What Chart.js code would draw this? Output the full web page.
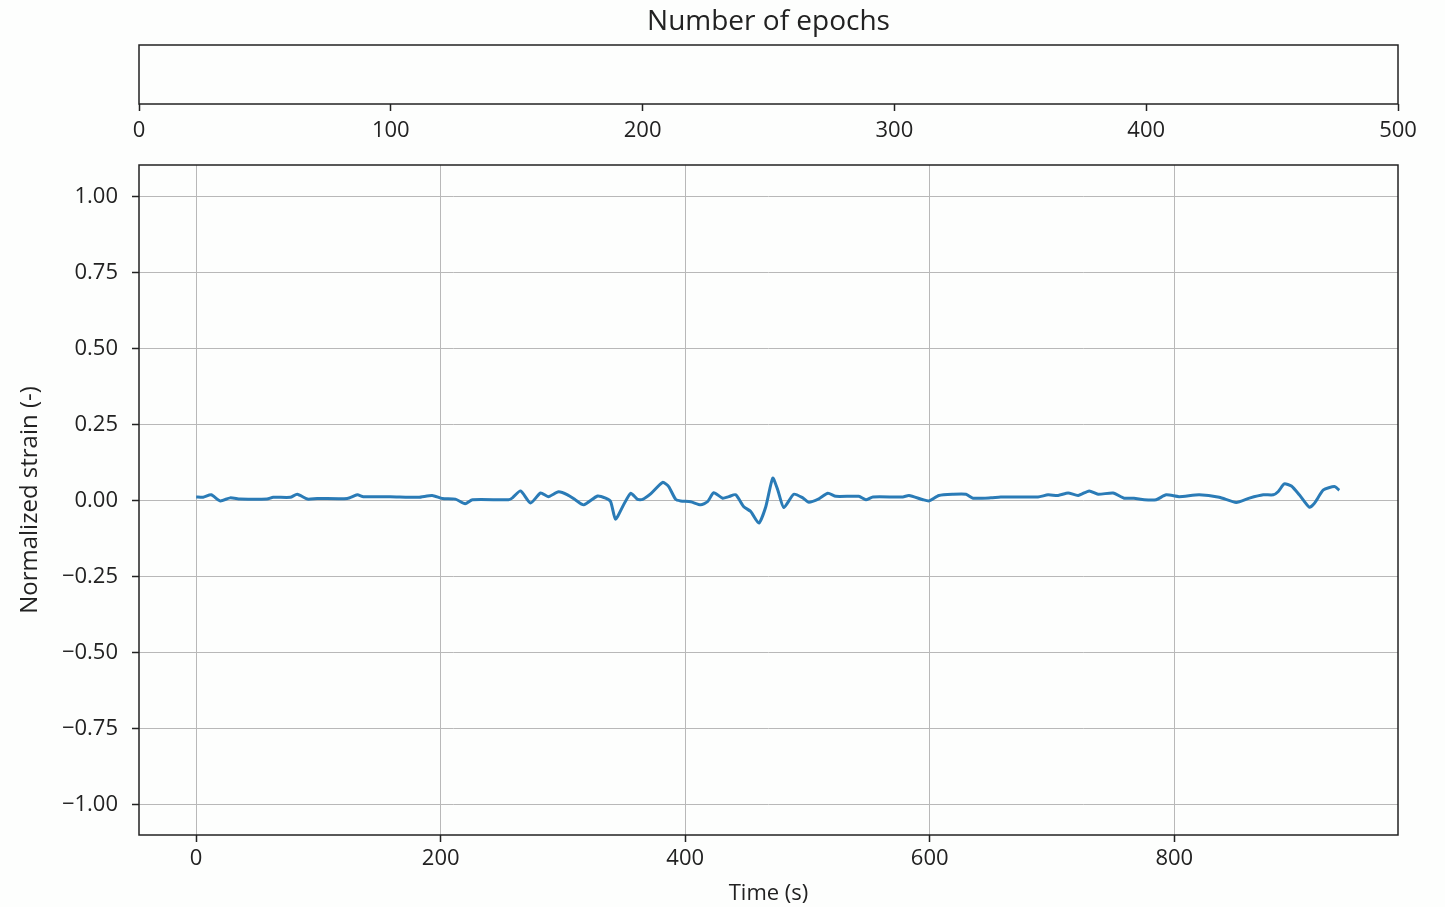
<!DOCTYPE html>
<html>
<head>
<meta charset="utf-8">
<script src="https://cdn.jsdelivr.net/npm/chart.js@4.4.0/dist/chart.umd.min.js"></script>
<style>
  body { margin: 0; background: #fdfefd; }
  #epochs { position: absolute; left: 0; top: 0; }
  #strain { position: absolute; left: 0; top: 150px; }
</style>
</head>
<body>
<canvas id="epochs" width="1445" height="150"></canvas>
<canvas id="strain" width="1445" height="757"></canvas>
<script>
// strain signal, time in seconds
const timeS = [0, 5.7, 12.3, 19.7, 27.8, 36, 58, 63, 77, 82.7, 91, 99, 123.6, 131.8, 136.7, 158.8,
  181.8, 193, 201.4, 212, 220, 226, 255.5, 258.7, 265.3, 273.5, 281.7, 288, 296.4, 303.8, 310.3,
  316.9, 328.3, 334.9, 339, 343, 348.8, 355.4, 361, 365.2, 371.7, 381.6, 386.5, 392.2, 396.3,
  404.5, 412.7, 418.4, 423.3, 430.7, 435.6, 441.3, 447.9, 453.6, 460.2, 465.9, 471.6, 475.7,
  480.6, 488.8, 496.2, 501.1, 509.3, 516.7, 523.2, 542, 547.8, 553.5, 578, 583, 594.5, 599.4,
  607.5, 619, 629.7, 635.4, 650, 658, 688.6, 696.8, 705, 713.2, 721.4, 730.4, 737.7, 750, 759,
  767, 775.4, 785.2, 793.4, 804, 820.4, 836.8, 850.7, 861.4, 872.8, 881, 885.1, 890, 895.8,
  902.3, 910.5, 914.6, 922, 931, 935];
const strain = [0.013, 0.012, 0.02, 0.0, 0.01, 0.006, 0.006, 0.012, 0.012, 0.022, 0.006, 0.008, 0.008, 0.02, 0.014, 0.014,
  0.012, 0.018, 0.008, 0.006, -0.009, 0.004, 0.004, 0.01, 0.033, -0.007, 0.026, 0.014, 0.03, 0.02, 0.003,
  -0.013, 0.016, 0.009, -0.002, -0.06, -0.019, 0.025, 0.005, 0.005, 0.023, 0.061, 0.047, 0.005, 0,
  -0.003, -0.013, -0.002, 0.027, 0.009, 0.014, 0.02, -0.019, -0.035, -0.073, -0.019, 0.075, 0.036,
  -0.022, 0.022, 0.01, -0.004, 0.007, 0.025, 0.015, 0.015, 0.004, 0.013, 0.013, 0.018, 0.004, 0,
  0.018, 0.022, 0.022, 0.009, 0.01, 0.013, 0.013, 0.02, 0.018, 0.026, 0.018, 0.033, 0.022, 0.026, 0.009,
  0.009, 0.004, 0.004, 0.02, 0.014, 0.02, 0.012, -0.005, 0.009, 0.02, 0.02, 0.031, 0.056, 0.049,
  0.02, -0.021, -0.008, 0.036, 0.047, 0.035];

const timeTicks = [0, 200, 400, 600, 800];
const strainTicks = [-1, -0.75, -0.5, -0.25, 0, 0.25, 0.5, 0.75, 1];
const epochTicks = [0, 100, 200, 300, 400, 500];

const FONT = 'Open Sans';
const INK = '#222';

// matplotlib-like minus sign
const fmt = v => v.toFixed(2).replace('-', '\u2212');

// box round the plot area
const frame = {
  id: 'frame',
  afterDraw(chart) {
    const { ctx, chartArea: a } = chart;
    ctx.save();
    ctx.strokeStyle = INK;
    ctx.lineWidth = 1.5;
    ctx.strokeRect(a.left, a.top, a.right - a.left, a.bottom - a.top);
    ctx.restore();
  }
};

const epochChart = new Chart(document.getElementById('epochs'), {
  type: 'line',
  data: { datasets: [] },
  options: {
    responsive: false,
    animation: false,
    layout: { padding: { left: 139, right: 47, top: 0, bottom: 0 } },
    plugins: {
      legend: { display: false },
      tooltip: { enabled: false },
      title: {
        display: true,
        text: 'Number of epochs',
        color: INK,
        font: { family: FONT, size: 28, weight: 'normal' },
        padding: { top: 5, bottom: 6.4 }
      }
    },
    scales: {
      x: {
        type: 'linear',
        min: 0,
        max: 500,
        afterBuildTicks: s => { s.ticks = epochTicks.map(v => ({ value: v })); },
        afterFit: s => { s.height = 46; },
        border: { display: false },
        grid: { drawOnChartArea: false, drawTicks: true, tickLength: 7, tickColor: INK, tickWidth: 1.5 },
        ticks: { color: INK, padding: 7, maxRotation: 0, font: { family: FONT, size: 22 } }
      },
      y: { display: false, min: 0, max: 1 }
    }
  },
  plugins: [frame]
});

const strainChart = new Chart(document.getElementById('strain'), {
  type: 'line',
  data: {
    datasets: [{
      data: timeS.map((t, i) => ({ x: t, y: strain[i] })),
      borderColor: '#2a7bb6',
      borderWidth: 3,
      pointRadius: 0,
      tension: 0.2,
      fill: false
    }]
  },
  options: {
    responsive: false,
    animation: false,
    layout: { padding: { left: 0, right: 47, top: 15, bottom: 0 } },
    plugins: {
      legend: { display: false },
      tooltip: { enabled: false }
    },
    scales: {
      x: {
        type: 'linear',
        min: -46.75,
        max: 983,
        afterBuildTicks: s => { s.ticks = timeTicks.map(v => ({ value: v })); },
        afterFit: s => { s.height = 72; s.paddingLeft = 0; s.paddingRight = 0; },
        border: { display: false },
        grid: { color: '#b8b8b8', lineWidth: 1, drawTicks: true, tickLength: 7, tickColor: INK, tickWidth: 1.5 },
        ticks: { color: INK, padding: 4, maxRotation: 0, font: { family: FONT, size: 22 } },
        title: { display: true, text: 'Time (s)', color: INK, font: { family: FONT, size: 22 }, padding: { top: 4, bottom: 0 } }
      },
      y: {
        type: 'linear',
        min: -1.099,
        max: 1.105,
        afterBuildTicks: s => { s.ticks = strainTicks.map(v => ({ value: v })); },
        afterFit: s => { s.width = 139; s.paddingTop = 0; s.paddingBottom = 0; },
        border: { display: false },
        grid: { color: '#b8b8b8', lineWidth: 1, drawTicks: true, tickLength: 7, tickColor: INK, tickWidth: 1.5 },
        ticks: { color: INK, padding: 14, callback: v => fmt(v), font: { family: FONT, size: 22 } },
        title: { display: true, text: 'Normalized strain (-)', color: INK, font: { family: FONT, size: 24 }, padding: { top: 16, bottom: 0 } }
      }
    }
  },
  plugins: [frame]
});
</script>
</body>
</html>
